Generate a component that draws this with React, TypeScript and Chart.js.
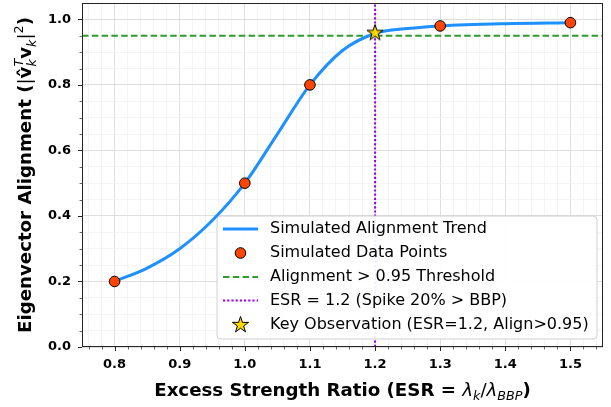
import React, { useEffect, useRef } from 'react';
import { Chart, registerables } from 'chart.js';

Chart.register(...registerables);

// ---------- data ----------
const pointX = [0.8, 1.0, 1.1, 1.3, 1.5];
const pointY = [0.2, 0.5, 0.8, 0.98, 0.99];

const trendX = [0.8, 0.85, 0.9, 0.95, 1.0, 1.05, 1.1, 1.15, 1.2, 1.25, 1.3, 1.4, 1.5];
const trendY = [0.2, 0.241, 0.3, 0.386, 0.5, 0.65, 0.8, 0.905, 0.957, 0.972, 0.98, 0.987, 0.99];

const thresholdY = 0.95;
const esrMarkerX = 1.2;
const starX = [1.2];
const starY = [0.96];

const xMin = 0.75;
const xMax = 1.55;
const yMin = 0;
const yMax = 1.05;

const xTickLabels = ['0.8', '0.9', '1.0', '1.1', '1.2', '1.3', '1.4', '1.5'];
const yTickLabels = ['0.0', '0.2', '0.4', '0.6', '0.8', '1.0'];
const xMinorStep = 0.02;
const yMinorStep = 0.05;

const legendLabels = [
  'Simulated Alignment Trend',
  'Simulated Data Points',
  'Alignment > 0.95 Threshold',
  'ESR = 1.2 (Spike 20% > BBP)',
  'Key Observation (ESR=1.2, Align>0.95)',
];

// ---------- styles ----------
const FONT = '"DejaVu Sans", sans-serif';
const TREND_COLOR = '#1E90FF';
const POINT_COLOR = '#FF4500';
const THRESH_COLOR = '#2f9a2f';
const VLINE_COLOR = '#a000f0';
const STAR_COLOR = '#FFD700';
const THRESH_DASH = [6.5, 3.3];
const VLINE_DASH = [2.2, 2];

function drawStarPath(ctx: CanvasRenderingContext2D, cx: number, cy: number, R: number) {
  const r = R * 0.382;
  ctx.beginPath();
  for (let i = 0; i < 10; i++) {
    const a = -Math.PI / 2 + (i * Math.PI) / 5;
    const rad = i % 2 === 0 ? R : r;
    const x = cx + rad * Math.cos(a);
    const y = cy + rad * Math.sin(a);
    if (i === 0) ctx.moveTo(x, y);
    else ctx.lineTo(x, y);
  }
  ctx.closePath();
  ctx.fillStyle = STAR_COLOR;
  ctx.fill();
  ctx.lineWidth = 1;
  ctx.strokeStyle = '#000';
  ctx.stroke();
}

function makeStarImage(): HTMLCanvasElement {
  const c = document.createElement('canvas');
  c.width = 22;
  c.height = 22;
  const ctx = c.getContext('2d')!;
  drawStarPath(ctx, 11, 11.5, 8.5);
  return c;
}

function buildTicks(min: number, max: number, step: number) {
  const out: { value: number }[] = [];
  const kStart = Math.ceil(min / step - 1e-9);
  const kEnd = Math.floor(max / step + 1e-9);
  for (let k = kStart; k <= kEnd; k++) out.push({ value: Math.round(k * step * 1000) / 1000 });
  return out;
}

function labelIndex(labels: string[], v: number) {
  return labels.findIndex((l) => Math.abs(parseFloat(l) - v) < 1e-6);
}

type Seg = { t: string; w: 'b' | 'n' | 'i'; s?: number; dy?: number; stack?: boolean };

function layoutRich(ctx: CanvasRenderingContext2D, segs: Seg[], S: number) {
  let x = 0;
  let prevStart = 0;
  let prevW = 0;
  const items: { seg: Seg; x: number; font: string }[] = [];
  for (const seg of segs) {
    const size = S * (seg.s ?? 1);
    const font = `${seg.w === 'b' ? 'bold ' : seg.w === 'i' ? 'italic ' : ''}${size}px ${FONT}`;
    ctx.font = font;
    const w = ctx.measureText(seg.t).width;
    if (seg.stack) {
      items.push({ seg, x: prevStart, font });
      const m = Math.max(prevW, w);
      x = prevStart + m;
      prevW = m;
    } else {
      items.push({ seg, x, font });
      prevStart = x;
      prevW = w;
      x += w;
    }
  }
  return { items, width: x };
}

function drawRich(ctx: CanvasRenderingContext2D, segs: Seg[], S: number) {
  const { items, width } = layoutRich(ctx, segs, S);
  ctx.textAlign = 'left';
  ctx.textBaseline = 'alphabetic';
  ctx.fillStyle = '#000';
  for (const it of items) {
    ctx.font = it.font;
    ctx.fillText(it.seg.t, it.x - width / 2, (it.seg.dy ?? 0) * S);
  }
}

const TITLE_SIZE = 18.2;

const xTitleSegs: Seg[] = [
  { t: 'Excess Strength Ratio (ESR = ', w: 'b' },
  { t: 'λ', w: 'i' },
  { t: 'k', w: 'i', s: 0.7, dy: 0.22 },
  { t: '/', w: 'n' },
  { t: 'λ', w: 'i' },
  { t: 'BBP', w: 'i', s: 0.7, dy: 0.22 },
  { t: ')', w: 'b' },
];

const yTitleSegs: Seg[] = [
  { t: 'Eigenvector Alignment (', w: 'b' },
  { t: '|', w: 'n' },
  { t: 'v\u0302', w: 'b' },
  { t: 'k', w: 'i', s: 0.7, dy: 0.25 },
  { t: 'T', w: 'i', s: 0.7, dy: -0.42, stack: true },
  { t: 'v', w: 'b' },
  { t: 'k', w: 'i', s: 0.7, dy: 0.25 },
  { t: '|', w: 'n' },
  { t: '2', w: 'n', s: 0.7, dy: -0.42 },
  { t: ')', w: 'b' },
];

const decorPlugin = {
  id: 'decor',
  afterDraw(chart: any) {
    const ctx: CanvasRenderingContext2D = chart.ctx;
    const area = chart.chartArea;
    const xs = chart.scales.x;
    const ys = chart.scales.y;
    ctx.save();

    // spines
    ctx.strokeStyle = '#262626';
    ctx.lineWidth = 1;
    ctx.strokeRect(Math.round(area.left) + 0.5, Math.round(area.top) + 0.5, Math.round(area.right - area.left) - 1, Math.round(area.bottom - area.top) - 1);

    // ticks
    const bottom = Math.round(area.bottom);
    for (const t of xs.ticks) {
      const px = Math.round(xs.getPixelForValue(t.value)) + 0.5;
      const major = labelIndex(xTickLabels, t.value) >= 0;
      ctx.lineWidth = major ? 1 : 0.7;
      ctx.beginPath();
      ctx.moveTo(px, bottom);
      ctx.lineTo(px, bottom + (major ? 4 : 2.5));
      ctx.stroke();
    }
    const left = Math.round(area.left);
    for (const t of ys.ticks) {
      const py = Math.round(ys.getPixelForValue(t.value)) + 0.5;
      const major = labelIndex(yTickLabels, t.value) >= 0;
      ctx.lineWidth = major ? 1 : 0.7;
      ctx.beginPath();
      ctx.moveTo(left, py);
      ctx.lineTo(left - (major ? 4 : 2.5), py);
      ctx.stroke();
    }

    // axis titles
    ctx.save();
    ctx.translate((area.left + area.right) / 2, 396);
    drawRich(ctx, xTitleSegs, TITLE_SIZE);
    ctx.restore();

    ctx.save();
    ctx.translate(31, (area.top + area.bottom) / 2);
    ctx.rotate(-Math.PI / 2);
    drawRich(ctx, yTitleSegs, TITLE_SIZE);
    ctx.restore();

    // legend
    const lx = 217, ly = 216, lw = 380, lh = 123;
    ctx.beginPath();
    const rr = 4;
    ctx.moveTo(lx + rr, ly);
    ctx.arcTo(lx + lw, ly, lx + lw, ly + lh, rr);
    ctx.arcTo(lx + lw, ly + lh, lx, ly + lh, rr);
    ctx.arcTo(lx, ly + lh, lx, ly, rr);
    ctx.arcTo(lx, ly, lx + lw, ly, rr);
    ctx.closePath();
    ctx.fillStyle = 'rgba(255,255,255,0.92)';
    ctx.fill();
    ctx.strokeStyle = '#d0d0d0';
    ctx.lineWidth = 1;
    ctx.stroke();

    const rowY = [229, 253, 277, 300.5, 324.5];
    const h0 = 223, h1 = 258, hc = (h0 + h1) / 2;
    ctx.lineCap = 'butt';
    legendLabels.forEach((label, i) => {
      const y = rowY[i];
      ctx.setLineDash([]);
      if (i === 0) {
        ctx.strokeStyle = TREND_COLOR;
        ctx.lineWidth = 3;
        ctx.beginPath(); ctx.moveTo(h0, y); ctx.lineTo(h1, y); ctx.stroke();
      } else if (i === 1) {
        ctx.beginPath(); ctx.arc(hc, y, 5.3, 0, Math.PI * 2);
        ctx.fillStyle = POINT_COLOR; ctx.fill();
        ctx.strokeStyle = '#000'; ctx.lineWidth = 1; ctx.stroke();
      } else if (i === 2) {
        ctx.strokeStyle = THRESH_COLOR; ctx.lineWidth = 1.8;
        ctx.setLineDash(THRESH_DASH);
        ctx.beginPath(); ctx.moveTo(h0, y); ctx.lineTo(h1, y); ctx.stroke();
      } else if (i === 3) {
        ctx.strokeStyle = VLINE_COLOR; ctx.lineWidth = 2;
        ctx.setLineDash(VLINE_DASH);
        ctx.beginPath(); ctx.moveTo(h0, y); ctx.lineTo(h1, y); ctx.stroke();
      } else {
        drawStarPath(ctx, hc, y + 0.5, 8.5);
      }
      ctx.setLineDash([]);
      ctx.fillStyle = '#000';
      ctx.font = `16px ${FONT}`;
      ctx.textAlign = 'left';
      ctx.textBaseline = 'middle';
      ctx.fillText(label, 270, y);
    });

    ctx.restore();
  },
};

export default function App() {
  const ref = useRef<HTMLCanvasElement | null>(null);

  useEffect(() => {
    document.body.style.margin = '0';
    const canvas = ref.current!;
    const star = makeStarImage();

    const majorGrid = '#dedede';
    const minorGrid = '#f1f1f1';

    const chart = new Chart(canvas, {
      type: 'line',
      data: {
        datasets: [
          {
            label: legendLabels[4],
            data: starX.map((x, i) => ({ x, y: starY[i] })),
            showLine: false,
            pointStyle: star as any,
            pointRadius: 9,
            order: 0,
          } as any,
          {
            label: legendLabels[1],
            data: pointX.map((x, i) => ({ x, y: pointY[i] })),
            showLine: false,
            pointRadius: 5.3,
            pointBackgroundColor: POINT_COLOR,
            pointBorderColor: '#000',
            pointBorderWidth: 1,
            order: 1,
          },
          {
            label: legendLabels[0],
            data: trendX.map((x, i) => ({ x, y: trendY[i] })),
            borderColor: TREND_COLOR,
            borderWidth: 3,
            pointRadius: 0,
            cubicInterpolationMode: 'monotone',
            fill: false,
            order: 2,
          },
          {
            label: legendLabels[3],
            data: [{ x: esrMarkerX, y: yMin }, { x: esrMarkerX, y: yMax }],
            borderColor: VLINE_COLOR,
            borderWidth: 2,
            borderDash: VLINE_DASH,
            pointRadius: 0,
            fill: false,
            order: 3,
          },
          {
            label: legendLabels[2],
            data: [{ x: xMin, y: thresholdY }, { x: xMax, y: thresholdY }],
            borderColor: THRESH_COLOR,
            borderWidth: 1.8,
            borderDash: THRESH_DASH,
            pointRadius: 0,
            fill: false,
            order: 4,
          },
        ],
      },
      options: {
        responsive: false,
        animation: false,
        events: [],
        layout: { autoPadding: false, padding: { top: 3, right: 8, left: 0, bottom: 0 } },
        plugins: {
          legend: { display: false },
          tooltip: { enabled: false },
          title: { display: false },
        },
        scales: {
          x: {
            type: 'linear',
            min: xMin,
            max: xMax,
            afterBuildTicks: (s: any) => {
              s.ticks = buildTicks(xMin, xMax, xMinorStep).filter((t) => t.value > xMin + 1e-9 && t.value < xMax - 1e-9);
            },
            afterFit: (s: any) => {
              s.height = 60;
              s.paddingLeft = 0;
              s.paddingRight = 0;
            },
            ticks: {
              autoSkip: false,
              maxRotation: 0,
              padding: 10,
              color: '#000',
              font: { family: FONT, size: 13, weight: 'bold' },
              callback: (v: any) => {
                const i = labelIndex(xTickLabels, Number(v));
                return i >= 0 ? xTickLabels[i] : '';
              },
            },
            grid: {
              drawTicks: false,
              color: (c: any) => (labelIndex(xTickLabels, c.tick?.value) >= 0 ? majorGrid : minorGrid),
              lineWidth: (c: any) => (labelIndex(xTickLabels, c.tick?.value) >= 0 ? 1 : 0.8),
            },
            border: { display: false },
          },
          y: {
            type: 'linear',
            min: yMin,
            max: yMax,
            afterBuildTicks: (s: any) => {
              s.ticks = buildTicks(yMin, 1.0, yMinorStep);
            },
            afterFit: (s: any) => {
              s.width = 82;
              s.paddingTop = 0;
              s.paddingBottom = 0;
            },
            ticks: {
              autoSkip: false,
              padding: 11,
              color: '#000',
              font: { family: FONT, size: 13, weight: 'bold' },
              callback: (v: any) => {
                const i = labelIndex(yTickLabels, Number(v));
                return i >= 0 ? yTickLabels[i] : '';
              },
            },
            grid: {
              drawTicks: false,
              color: (c: any) => (labelIndex(yTickLabels, c.tick?.value) >= 0 ? majorGrid : minorGrid),
              lineWidth: (c: any) => (labelIndex(yTickLabels, c.tick?.value) >= 0 ? 1 : 0.8),
            },
            border: { display: false },
          },
        },
      } as any,
      plugins: [decorPlugin],
    });

    return () => chart.destroy();
  }, []);

  return (
    <div style={{ width: 611, height: 407, background: '#fff' }}>
      <canvas ref={ref} width={611} height={407} style={{ display: 'block' }} />
    </div>
  );
}
